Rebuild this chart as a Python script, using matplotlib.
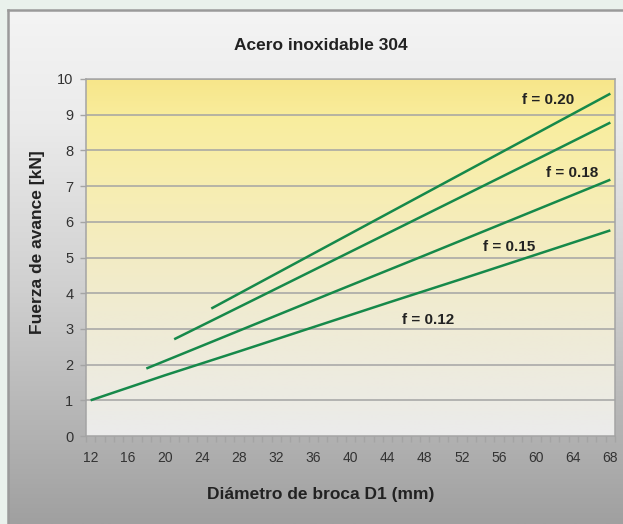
import numpy as np
import matplotlib
matplotlib.use("Agg")
import matplotlib.pyplot as plt
from matplotlib.colors import LinearSegmentedColormap

plt.rcParams['font.family'] = ['Liberation Sans', 'DejaVu Sans']

# ---- data ----
title = "Acero inoxidable 304"
xlabel = "Diámetro de broca D1 (mm)"
ylabel = "Fuerza de avance [kN]"

d_012 = [12, 20, 28, 36, 44, 52, 60, 68]
f_012 = [1.00, 1.70, 2.37, 3.05, 3.73, 4.40, 5.08, 5.76]
d_015 = [18, 28, 38, 48, 58, 68]
f_015 = [1.89, 2.95, 4.01, 5.06, 6.12, 7.18]
d_018 = [21, 30, 40, 50, 60, 68]
f_018 = [2.71, 3.87, 5.16, 6.45, 7.74, 8.78]
d_020 = [25, 32, 40, 48, 56, 68]
f_020 = [3.57, 4.55, 5.67, 6.79, 7.91, 9.59]

series_labels = ["f = 0.12", "f = 0.15", "f = 0.18", "f = 0.20"]
label_pos = [(48.4, 3.25), (57.1, 5.30), (63.9, 7.37), (61.3, 9.42)]

x_ticks = list(range(12, 69, 4))
y_ticks = list(range(0, 11))

# ---- figure ----
W, H = 623, 524
fig = plt.figure(figsize=(W / 100, H / 100), dpi=100)
fig.patch.set_facecolor('#e9f1ec')

# panel background with vertical gray gradient
bg = fig.add_axes([8 / W, 0, 1 - 8 / W, (H - 10) / H], zorder=0)
panel_cmap = LinearSegmentedColormap.from_list(
    'panel', [(0, '#f4f4f4'), (0.22, '#ebebeb'), (0.55, '#cfcfcf'), (1, '#a0a0a0')])
grad = np.linspace(0, 1, 256).reshape(-1, 1)
bg.imshow(grad, aspect='auto', cmap=panel_cmap, extent=[0, 1, 0, 1], origin='upper')
bg.set_xlim(0, 1)
bg.set_ylim(0, 1)
bg.set_xticks([])
bg.set_yticks([])
for s in ['right', 'bottom']:
    bg.spines[s].set_visible(False)
for s in ['left', 'top']:
    bg.spines[s].set_color('#9a9a9a')
    bg.spines[s].set_linewidth(1.8)

# plot area
left, right, top, bottom = 86, 615, 79, 436
ax = fig.add_axes([left / W, (H - bottom) / H, (right - left) / W, (bottom - top) / H], zorder=1)
ax.set_xlim(11.5, 68.5)
ax.set_ylim(0, 10)

plot_cmap = LinearSegmentedColormap.from_list(
    'plotbg', [(0, '#f7e68a'), (0.12, '#f9ee9f'), (0.35, '#f6edb6'),
               (0.65, '#f0ebd2'), (1, '#ebebeb')])
ax.imshow(grad, aspect='auto', cmap=plot_cmap, extent=[0, 1, 0, 1],
          transform=ax.transAxes, origin='upper', zorder=0)

for y in y_ticks[1:]:
    ax.axhline(y, color='#a4a4a4', lw=1.1, zorder=1)

green = '#16894a'
for xs, ys in [(d_012, f_012), (d_015, f_015), (d_018, f_018), (d_020, f_020)]:
    ax.plot(xs, ys, color=green, lw=1.8, zorder=3, solid_capstyle='butt')

for lab, (lx, ly) in zip(series_labels, label_pos):
    ax.text(lx, ly, lab, ha='center', va='center', fontsize=11, fontweight='bold',
            color='#222222', zorder=4)

for s in ax.spines.values():
    s.set_color('#a4a4a4')
    s.set_linewidth(1.1)

ax.set_yticks(y_ticks)
ax.set_yticklabels([str(v) for v in y_ticks])
ax.tick_params(axis='y', direction='out', length=4, width=1, color='#a4a4a4',
               labelsize=10.5, labelcolor='#333333', pad=5)

ax.set_xticks(x_ticks)
ax.set_xticklabels([str(v) for v in x_ticks])
ax.set_xticks(np.arange(11.5, 69, 1), minor=True)
ax.tick_params(axis='x', which='major', length=0, labelsize=10, labelcolor='#333333', pad=11)
ax.tick_params(axis='x', which='minor', direction='out', length=4, width=1, color='#a4a4a4')

fig.text(321 / W, 1 - 45 / H, title, ha='center', va='center', fontsize=12.5,
         fontweight='bold', color='#222222')
fig.text(321 / W, 1 - 494 / H, xlabel, ha='center', va='center', fontsize=12.5,
         fontweight='bold', color='#222222')
fig.text(38 / W, 1 - 242 / H, ylabel, ha='center', va='center', rotation=90,
         fontsize=12.5, fontweight='bold', color='#222222')

fig.savefig('out.png', dpi=100)
